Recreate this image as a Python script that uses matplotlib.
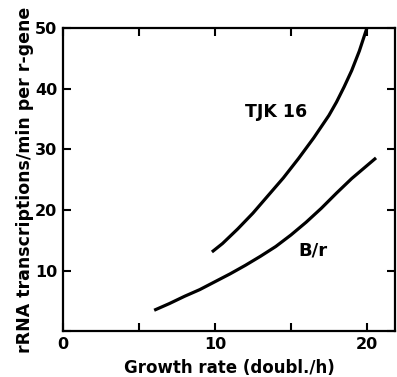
import numpy as np
import matplotlib
matplotlib.use("Agg")
import matplotlib.pyplot as plt

# values
tjk_x = [9.8, 10.5, 11.5, 12.5, 13.5, 14.5, 15.5, 16.5, 17.5, 18.0, 18.5, 19.0, 19.5, 20.0]
tjk_y = [13.1, 14.5, 16.9, 19.5, 22.4, 25.3, 28.5, 31.9, 35.6, 37.8, 40.3, 43.0, 46.2, 50.0]
br_x = [6.0, 7.0, 8.0, 9.0, 10.0, 11.0, 12.0, 13.0, 14.0, 15.0, 16.0, 17.0, 18.0, 19.0, 20.6]
br_y = [3.5, 4.6, 5.8, 6.9, 8.2, 9.5, 10.9, 12.4, 14.0, 15.9, 18.0, 20.3, 22.8, 25.2, 28.6]

xticks = [0, 5, 10, 15, 20]
xticklabels = ["0", "", "10", "", "20"]
yticks = [0, 10, 20, 30, 40, 50]
yticklabels = ["", "10", "20", "30", "40", "50"]

plt.rcParams['font.family'] = ['DejaVu Sans']
plt.rcParams['font.weight'] = 'bold'

fig = plt.figure(figsize=(3.97, 3.77), dpi=100)
ax = fig.add_axes([0.1587, 0.1207, 0.9950 - 0.1587, 0.9257 - 0.1207])

ax.plot(tjk_x, tjk_y, color='black', lw=2.3, solid_capstyle='butt')
ax.plot(br_x, br_y, color='black', lw=2.3, solid_capstyle='butt')

ax.text(14.05, 36.1, "TJK 16", fontsize=12.5, fontweight='bold', ha='center', va='center')
ax.text(16.45, 13.4, "B/r", fontsize=13, fontweight='bold', ha='center', va='center')

ax.set_xlim(0, 21.85)
ax.set_ylim(0, 50)
ax.set_xticks(xticks)
ax.set_xticklabels(xticklabels)
ax.set_yticks(yticks)
ax.set_yticklabels(yticklabels)
ax.tick_params(direction='in', length=6, width=1.5, top=True, right=True,
               labelsize=11.5, pad=4)
for s in ax.spines.values():
    s.set_linewidth(1.6)

ax.set_xlabel("Growth rate (doubl./h)", fontsize=12, fontweight='bold', labelpad=5)
ax.set_ylabel("rRNA transcriptions/min per r-gene", fontsize=12.5, fontweight='bold', labelpad=1)

fig.savefig("out.png", dpi=100)
